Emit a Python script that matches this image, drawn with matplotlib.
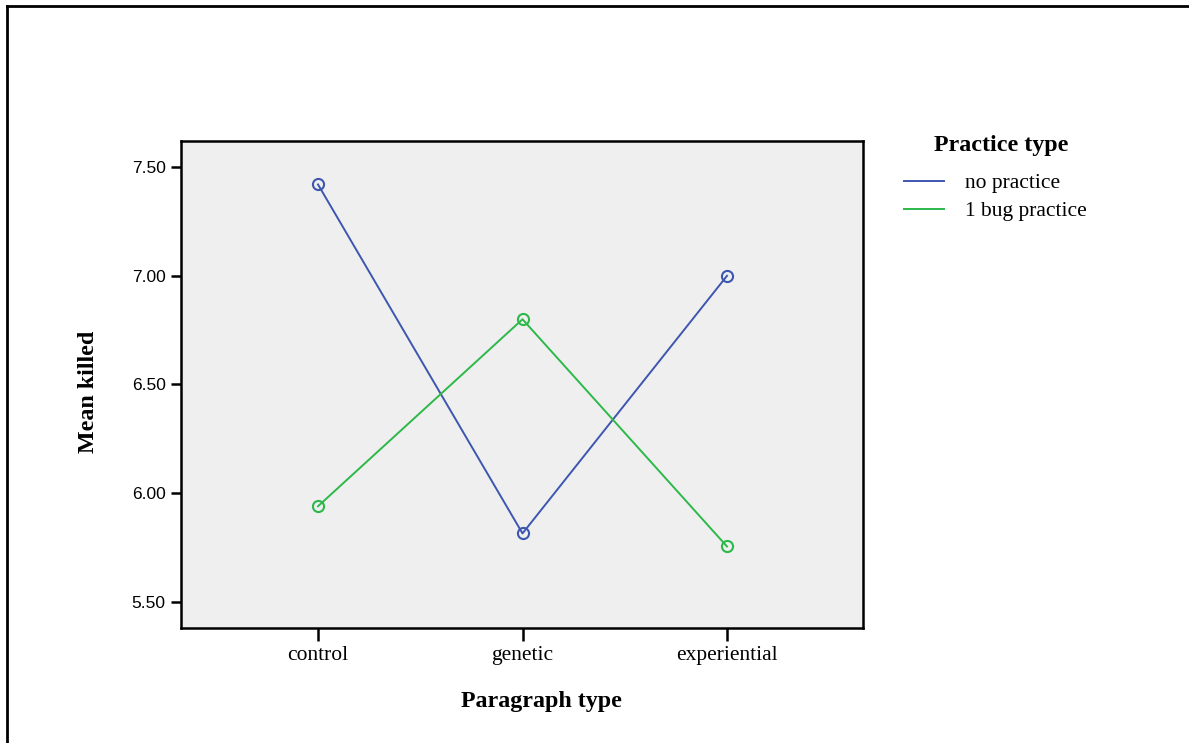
import matplotlib.pyplot as plt
from matplotlib.lines import Line2D

# Dados
paragrafos = ['control', 'genetic', 'experiential']
sem_pratica = [7.42, 5.815, 7.00]
uma_pratica = [5.94, 6.80, 5.755]
series = ['no practice', '1 bug practice']
cores = ['#3d56b0', '#2db84a']
yticks = [5.50, 6.00, 6.50, 7.00, 7.50]

fig = plt.figure(figsize=(11.89, 7.43), dpi=100)
ax = fig.add_axes([181 / 1189, 1 - 628 / 743, 682 / 1189, 487 / 743])
ax.set_facecolor('#efefef')

x = range(len(paragrafos))
ax.plot(x, sem_pratica, color=cores[0], lw=1.4, marker='o', ms=8,
        mfc='none', mew=1.5, label=series[0])
ax.plot(x, uma_pratica, color=cores[1], lw=1.4, marker='o', ms=8,
        mfc='none', mew=1.5, label=series[1])

ax.set_xlim(-0.67, 2.665)
ax.set_ylim(5.38, 7.62)
ax.set_xticks(list(x))
ax.set_xticklabels(paragrafos, fontfamily='Liberation Serif', fontsize=15.5)
ax.set_yticks(yticks)
ax.set_yticklabels([f'{v:.2f}' for v in yticks], fontfamily='Liberation Sans', fontsize=12.5)
ax.tick_params(axis='x', length=9, width=1.8, pad=4)
ax.tick_params(axis='y', length=7, width=1.8, pad=4)
for s in ax.spines.values():
    s.set_linewidth(1.8)

fig.text(541 / 1189, 1 - 702 / 743, 'Paragraph type', ha='center', va='center',
         fontfamily='Liberation Serif', fontweight='bold', fontsize=17.3)
fig.text(88 / 1189, 1 - 392 / 743, 'Mean killed', ha='center', va='center', rotation=90,
         fontfamily='Liberation Serif', fontweight='bold', fontsize=17.3)

# Legenda
fig.text(1001 / 1189, 1 - 145 / 743, 'Practice type', ha='center', va='center',
         fontfamily='Liberation Serif', fontweight='bold', fontsize=17.3)
leg = fig.legend(handles=[Line2D([], [], color=cores[0], lw=1.4),
                          Line2D([], [], color=cores[1], lw=1.4)],
                 labels=series, loc='upper left',
                 bbox_to_anchor=(904 / 1189, 1 - 173 / 743), frameon=False,
                 prop={'family': 'Liberation Serif', 'size': 15.5},
                 borderpad=0, borderaxespad=0,
                 handlelength=1.85, handletextpad=1.0, labelspacing=0.38)

# Moldura externa
fig.add_artist(Line2D([7 / 1189, 1], [1 - 6 / 743, 1 - 6 / 743], color='black', lw=2))
fig.add_artist(Line2D([7 / 1189, 7 / 1189], [0, 1 - 6 / 743], color='black', lw=2))

plt.savefig('out.png', dpi=100)
plt.close()
